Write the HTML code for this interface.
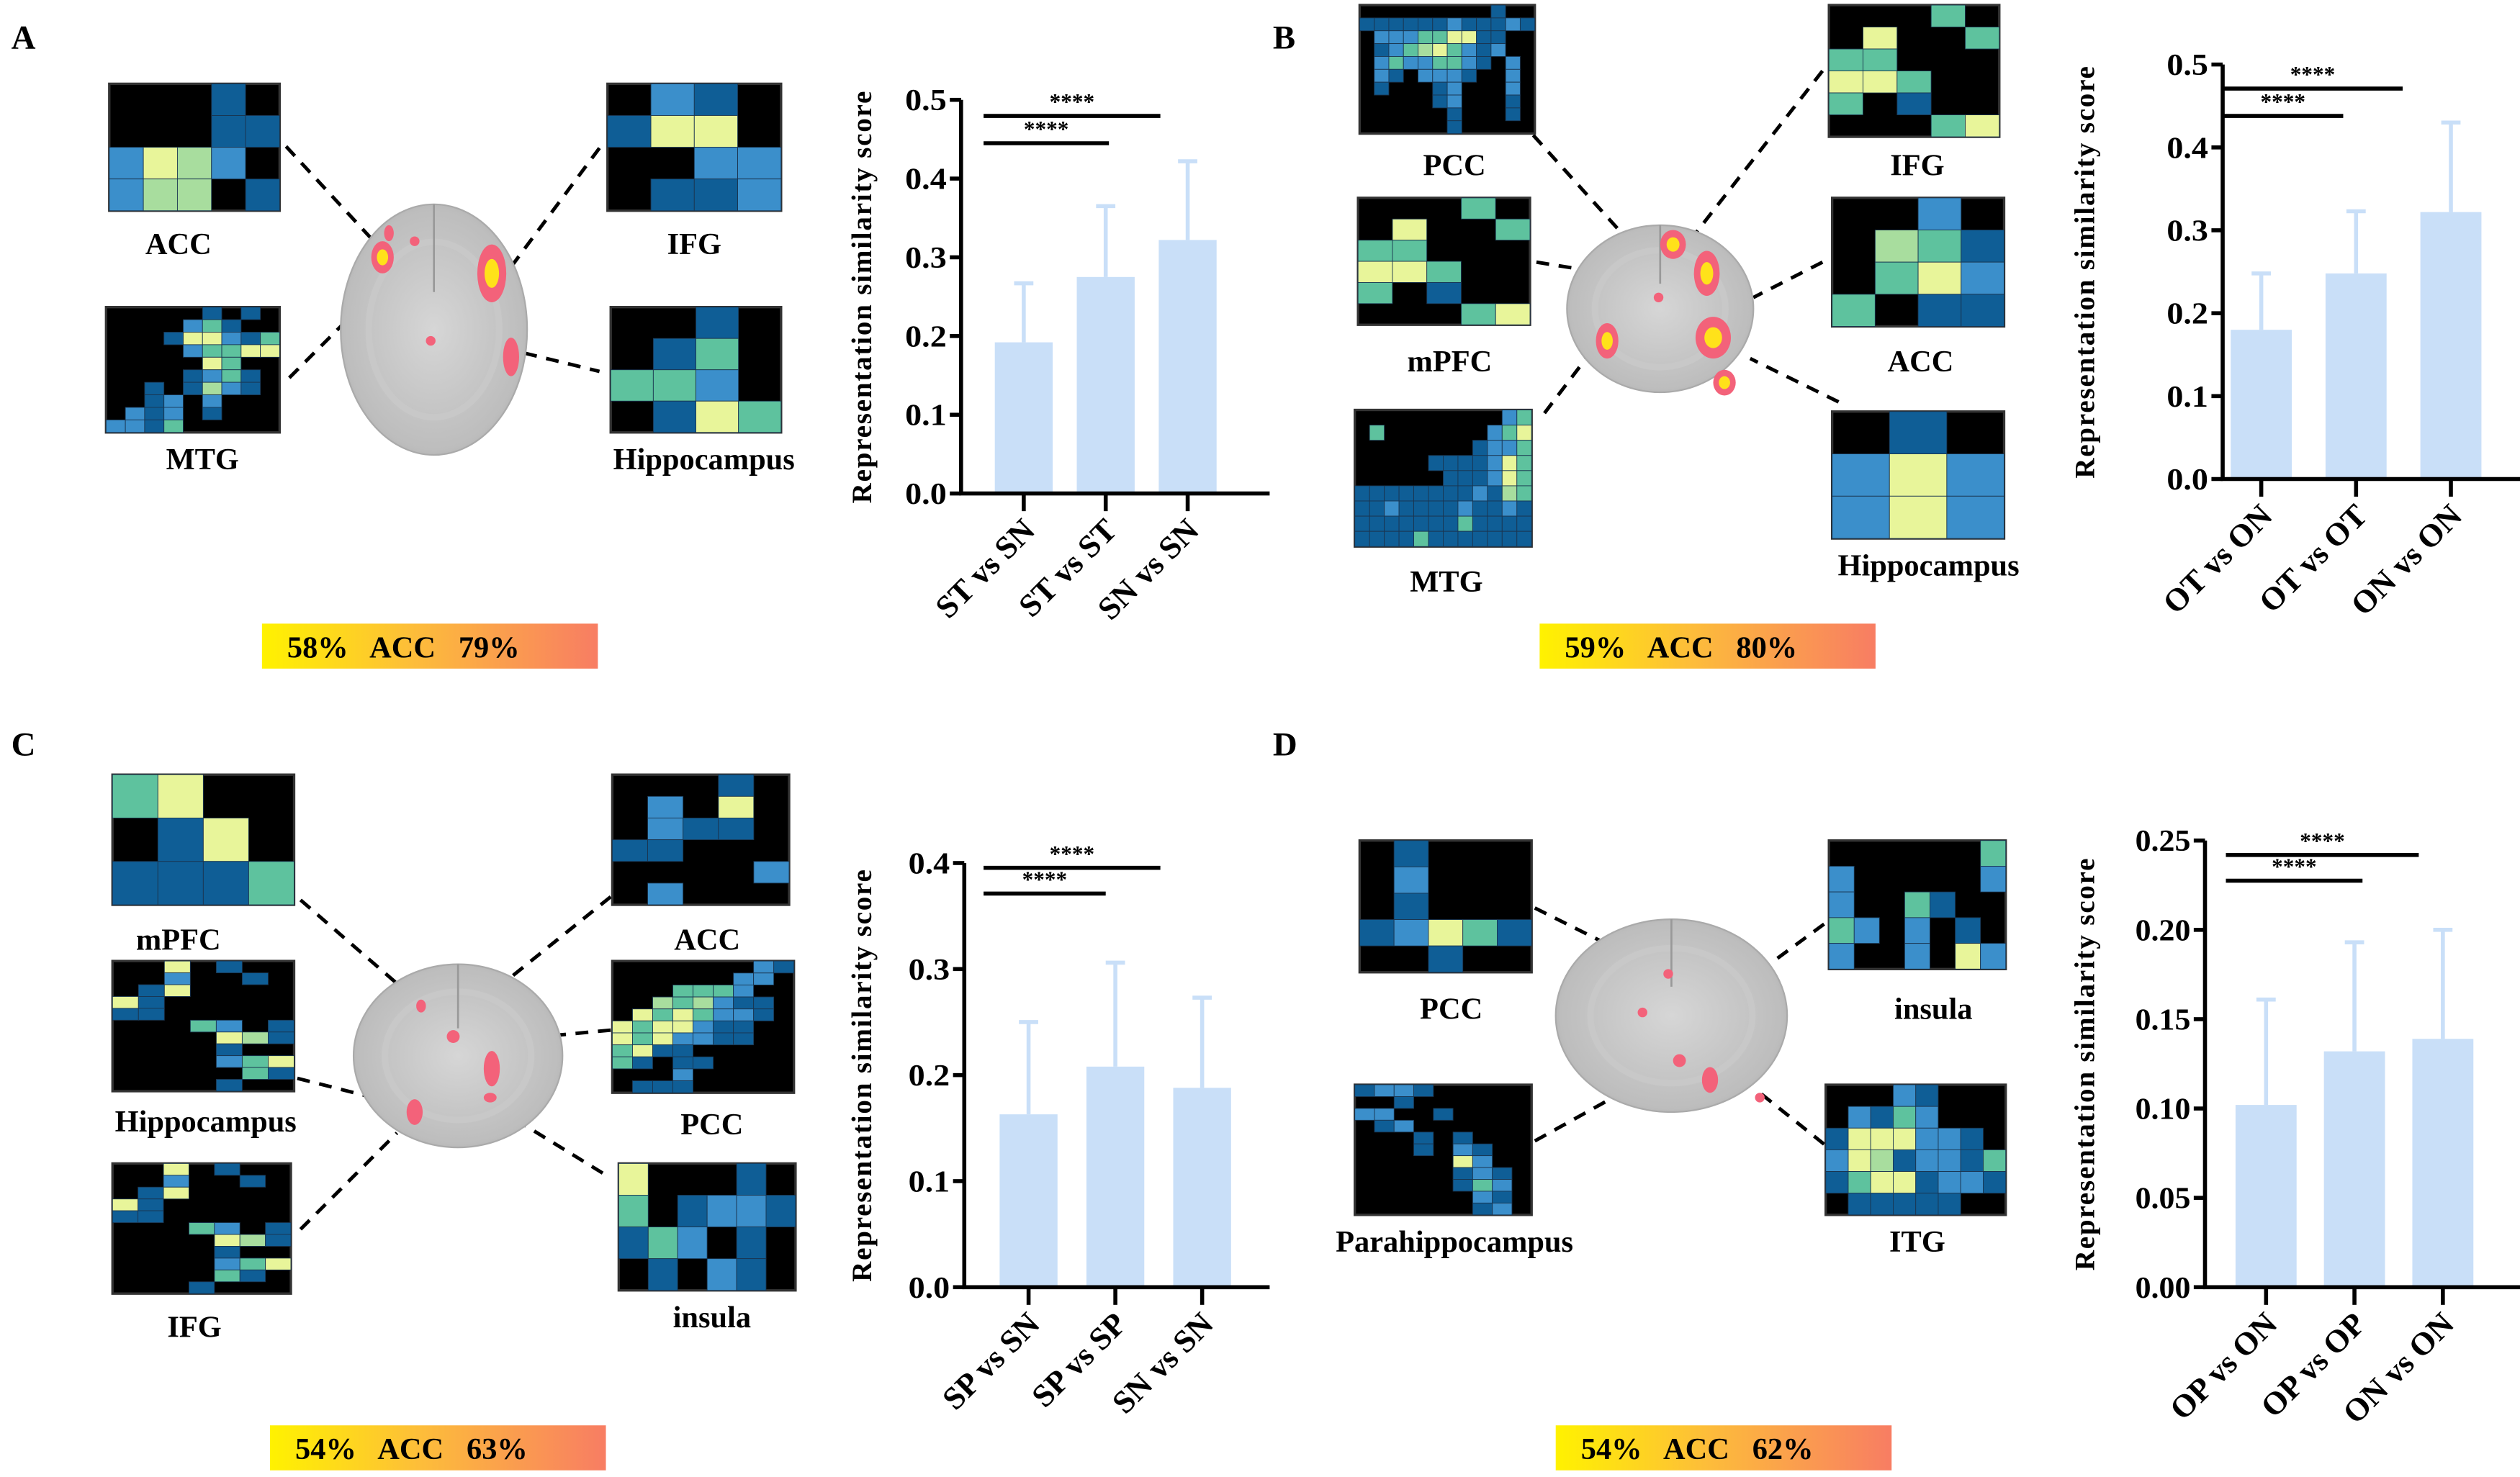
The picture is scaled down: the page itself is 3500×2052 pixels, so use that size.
<!DOCTYPE html>
<html><head><meta charset="utf-8">
<style>
html,body{margin:0;padding:0;background:#fff;}
svg{display:block;}
text{font-family:"Liberation Serif",serif;font-weight:bold;fill:#000;white-space:pre;}
</style></head>
<body>
<svg id="fig" width="3500" height="2052" viewBox="0 0 1568 919" xmlns="http://www.w3.org/2000/svg">
<defs>
<linearGradient id="cbar" x1="0" x2="1" y1="0" y2="0">
<stop offset="0" stop-color="#fff200"/><stop offset="0.45" stop-color="#fdbd3a"/><stop offset="1" stop-color="#f87d63"/>
</linearGradient>
<radialGradient id="brainG" cx="0.5" cy="0.5" r="0.6">
<stop offset="0" stop-color="#d6d6d6"/><stop offset="0.8" stop-color="#bdbdbd"/><stop offset="1" stop-color="#a5a5a5"/>
</radialGradient>
</defs>
<g id="layer"></g>
</svg>
<script>
// ---- Chart data (small named arrays) ----
const catsA = ["ST vs SN","ST vs ST","SN vs SN"];
const valsA = [0.192,0.275,0.322];
const errA  = [0.267,0.365,0.422];
const ticksA = ["0.0","0.1","0.2","0.3","0.4","0.5"];

const catsB = ["OT vs ON","OT vs OT","ON vs ON"];
const valsB = [0.180,0.248,0.322];
const errB  = [0.248,0.323,0.430];
const ticksB = ["0.0","0.1","0.2","0.3","0.4","0.5"];

const catsC = ["SP vs SN","SP vs SP","SN vs SN"];
const valsC = [0.163,0.208,0.188];
const errC  = [0.250,0.306,0.273];
const ticksC = ["0.0","0.1","0.2","0.3","0.4"];

const catsD = ["OP vs ON","OP vs OP","ON vs ON"];
const valsD = [0.102,0.132,0.139];
const errD  = [0.161,0.193,0.200];
const ticksD = ["0.00","0.05","0.10","0.15","0.20","0.25"];

const NS="http://www.w3.org/2000/svg";
const layer=document.getElementById('layer');
function mk(tag,attrs,parent){const e=document.createElementNS(NS,tag);for(const k in attrs)e.setAttribute(k,attrs[k]);(parent||layer).appendChild(e);return e;}

function drawChart(id,cats,vals,errs,ticks,ax){
  const g=mk('g',{});
  
  
  const ymax=parseFloat(ticks[ticks.length-1]);
  const y=v=>ax.y0-(v/ymax)*(ax.y0-ax.y1);
  const x=i=>ax.x0+ax.first+i*ax.step;
  cats.forEach((c,i)=>{
    const b=mk('rect',{x:x(i)-ax.bw/2,y:y(vals[i]),width:ax.bw,height:ax.y0-y(vals[i]),fill:'#c9dff8'},g);
    
    
    const e=mk('path',{d:`M${x(i)} ${y(vals[i])}V${y(errs[i])}M${x(i)-6} ${y(errs[i])}H${x(i)+6}`,stroke:'#c9dff8','stroke-width':2.5,fill:'none'},g);
    
    
  });
  const axl=mk('path',{d:`M${ax.x0} ${ax.y1}V${ax.y0}H${ax.xend}`,stroke:'#000','stroke-width':2.5,fill:'none'},g);
  
  
  ticks.forEach(t=>{
    const v=parseFloat(t);
    mk('path',{d:`M${ax.x0-7} ${y(v)}H${ax.x0}`,stroke:'#000','stroke-width':2.5},g);
    const tl=mk('text',{x:ax.x0-9,y:y(v)+6.5,'text-anchor':'end','font-size':19,'textLength':t.length*8.6,'lengthAdjust':'spacingAndGlyphs'},g);
    tl.textContent=t;
    
    
  });
  cats.forEach((c,i)=>{
    mk('path',{d:`M${x(i)} ${ax.y0}V${ax.y0+11}`,stroke:'#000','stroke-width':2.5},g);
    const tl=mk('text',{x:x(i)+8,y:ax.y0+24,'text-anchor':'end','font-size':20,transform:`rotate(-45 ${x(i)+8} ${ax.y0+24})`},g);
    tl.textContent=c;
    
    
  });
  const tt=mk('text',{x:ax.tx,y:(ax.y0+ax.y1)/2,'text-anchor':'middle','font-size':17.5,'letter-spacing':0.8,transform:`rotate(-90 ${ax.tx} ${(ax.y0+ax.y1)/2})`},g);
  tt.textContent='Representation similarity score';
  
  
  ax.sig.forEach((s,k)=>{
    const l=mk('path',{d:`M${s[0]} ${s[2]}H${s[1]}`,stroke:'#000','stroke-width':2.5},g);
    
    
    const st=mk('text',{x:(s[0]+s[1])/2,y:s[2]-4,'text-anchor':'middle','font-size':14,fill:'#333'},g);
    st.textContent='****';
    
    
  });
}
drawChart('a',catsA,valsA,errA,ticksA,{x0:598,y0:307,y1:62,xend:790,first:39,step:51,bw:36,tx:542,sig:[[612,690,89],[612,722,72]]});
drawChart('b',catsB,valsB,errB,ticksB,{x0:1383,y0:298,y1:40,xend:1568,first:24,step:59,bw:38,tx:1303,sig:[[1383,1458,72],[1383,1495,55]]});
drawChart('c',catsC,valsC,errC,ticksC,{x0:600,y0:801,y1:537,xend:790,first:40,step:54,bw:36,tx:542,sig:[[612,688,556],[612,722,540]]});
drawChart('d',catsD,valsD,errD,ticksD,{x0:1372,y0:801,y1:523,xend:1568,first:38,step:55,bw:38,tx:1303,sig:[[1385,1470,548],[1385,1505,532]]});

// ---- Heatmaps ----
const COL={k:'#000000',d:'#0f5e96',b:'#3b8fcb',t:'#5ec29e',y:'#e8f59a',g:'#a8dd9e'};
function heat(name,x,y,w,h,rows){
  const g=mk('g',{});
  
  
  mk('rect',{x:x,y:y,width:w,height:h,fill:'#000',stroke:'#333','stroke-width':1.5},g);
  const nr=rows.length,nc=rows[0].length,cw=w/nc,ch=h/nr;
  rows.forEach((r,i)=>{[...r].forEach((c,j)=>{if(c!=='k')mk('rect',{x:x+j*cw,y:y+i*ch,width:cw,height:ch,fill:COL[c],stroke:'#1a3550','stroke-width':0.4},g);});});
}
function label(txt,x,y){const t=mk('text',{x:x,y:y,'text-anchor':'middle','font-size':19});t.textContent=txt;
  }
function dash(x1,y1,x2,y2){const l=mk('line',{x1,y1,x2,y2,stroke:'#000','stroke-width':2.2,'stroke-dasharray':'8,6'});
  }
function brain(cx,cy,rx,ry,blobs){
  const g=mk('g',{});
  mk('ellipse',{cx,cy,rx,ry,fill:'url(#brainG)',stroke:'#aaa','stroke-width':1},g);
  mk('ellipse',{cx,cy,rx:rx*0.7,ry:ry*0.7,fill:'none',stroke:'#c8c8c8','stroke-width':4},g);
  mk('line',{x1:cx,y1:cy-ry,x2:cx,y2:cy-ry*0.3,stroke:'#999','stroke-width':1.2},g);
  blobs.forEach(b=>{mk('ellipse',{cx:b[0],cy:b[1],rx:b[2],ry:b[3],fill:'#f3627a'},g);
    if(b[2]>5)mk('ellipse',{cx:b[0],cy:b[1],rx:b[2]*0.5,ry:b[3]*0.5,fill:'#ffe21a'},g);});
}
function cbar(x,y,txt){const r=mk('rect',{x,y,width:209,height:28,fill:'url(#cbar)'});
  
  const t=mk('text',{x:x+88,y:y+21,'text-anchor':'middle','font-size':19});t.textContent=txt;
  }
function letter(l,x,y){const t=mk('text',{x,y,'font-size':21});t.textContent=l;
  }

// Panel A
letter('A',7,30);
dash(178,91,240,158);dash(373,92,315,170);dash(180,235,225,190);dash(299,213,373,231);
brain(270,205,58,78,[[238,160,7,10],[306,170,9,18],[268,212,3,3],[318,222,5,12],[242,145,3,5],[258,150,3,3]]);
heat('acc-a',68,52,106,79,['kkkdk','kkkdd','bygbk','bggkd']);
heat('ifg-a',378,52,108,79,['kbdk','dyyk','kkbb','kddb']);
heat('mtg-a',66,191,108,78,['kkkkkdkdk','kkkkbtdkk','kkkdyybdt','kkkkbttyy','kkkkkytkk','kkkkdbtdk','kkdkdgbdk','kkdbkbkkk','kbdbkdkkk','bbdtkkkkk']);
heat('hippo-a',380,191,106,78,['kkdk','kdtk','ttbk','kdyt']);
label('ACC',111,158);label('IFG',432,158);label('MTG',126,292);label('Hippocampus',438,292);
cbar(163,388,'58%   ACC   79%');

// Panel B
letter('B',792,30);
dash(954,84,1029,167);dash(1134,44,1041,163);dash(956,163,1024,174);dash(1134,163,1091,185);dash(961,257,999,207);dash(1144,250,1089,223);
brain(1033,192,58,52,[[1041,152,8,9],[1062,170,8,14],[1000,212,7,11],[1066,210,11,13],[1073,238,7,8],[1032,185,3,3]]);
heat('pcc-b',846,3,109,80,['kkkkkkkkkdkk','ddddddbdddbd','kbbbttyyddkk','kdbtgytbdbkk','kbtbbttbdkbk','kbdkbbbdkkbk','kdkkkdbkkkbk','kkkkkdbkkkdk','kkkkkkdkkkdk','kkkkkkdkkkkk']);
heat('ifg-b',1138,3,106,82,['kkktk','kykkt','ttkkk','yytkk','tkdkk','kkkty']);
heat('mpfc-b',845,123,107,79,['kkktk','kykkt','ttkkk','yytkk','tkdkk','kkkty']);
heat('acc-b',1140,123,107,80,['kkbk','kgtd','ktyb','tkdd']);
heat('mtg-b',843,255,110,85,['kkkkkkkkkkbt','ktkkkkkkkbty','kkkkkkkkdbbt','kkkkkddddbyt','kkkkkkdddbyt','ddddddddbdgt','ddbddddbddbd','dddddddtdddd','ddddtddddddd']);
heat('hippo-b',1140,256,107,79,['kdk','byb','byb']);
label('PCC',905,109);label('IFG',1193,109);label('mPFC',902,231);label('ACC',1195,231);label('MTG',900,368);label('Hippocampus',1200,358);
cbar(958,388,'59%   ACC   80%');

// Panel C
letter('C',7,470);
dash(187,560,262,625);dash(380,558,277,641);dash(185,671,260,690);dash(380,641,285,650);dash(187,765,247,705);dash(375,730,305,687);
brain(285,657,65,57,[[262,626,3,4],[282,645,4,4],[306,665,5,11],[258,692,5,8],[305,683,4,3]]);
heat('mpfc-c',70,482,113,81,['tykk','kdyk','dddt']);
heat('acc-c',381,482,110,81,['kkkdk','kbkyk','kbddk','ddkkk','kkkkb','kbkkk']);
heat('hippo-c',70,598,113,81,['kkykdkk','kkbkkdk','kdykkkk','ydkkkkk','ddkkkkk','kkktbkd','kkkkygd','kkkkdkk','kkkkbty','kkkkktd','kkkkdkk']);
heat('pcc-c',381,598,113,82,['kkkkkkkbd','kkkkkkbbk','kkktttbkk','kkgtgbddk','kytytbbdk','ytyybddkk','ytybbddkk','tyddkkkkk','tdkddkkkk','kkkbkkkkk','kdddkkkkk']);
heat('ifg-c',70,724,111,81,['kkykdkk','kkbkkdk','kdykkkk','ydkkkkk','ddkkkkk','kkktbkd','kkkkygd','kkkkdkk','kkkkbty','kkkktdk','kkkdkkk']);
heat('insula-c',385,724,110,79,['ykkkdk','tkdbbd','dtbkdk','kdkbdk']);
label('mPFC',111,591);label('ACC',440,591);label('Hippocampus',128,704);label('PCC',443,706);label('IFG',121,832);label('insula',443,826);
cbar(168,887,'54%   ACC   63%');

// Panel D
letter('D',792,470);
dash(955,565,1035,605);dash(1135,575,1060,630);dash(955,710,1045,660);dash(1135,712,1095,680);
brain(1040,632,72,60,[[1038,606,3,3],[1022,630,3,3],[1045,660,4,4],[1064,672,5,8],[1095,683,3,3]]);
heat('pcc-d',846,523,107,82,['kdkkk','kbkkk','kdkkk','dbytd','kkdkk']);
heat('insula-d',1138,523,110,80,['kkkkkkt','bkkkkkb','bkktdkk','tbkbkdk','bkkbkyb']);
heat('parahippo-d',843,675,110,81,['dbbdkkkkk','kkdkkkkkk','bbkkdkkkk','kdbkkkkkk','kkkdkdkkk','kkkdkbdkk','kkkkkybkk','kkkkkdbdk','kkkkkdtbk','kkkkkkbdk','kkkkkkdbk']);
heat('itg-d',1136,675,112,81,['kkkbdkkk','kbdtbkkk','dyyybbdk','bygdbbdt','dtyydbbd','kdddddkk']);
label('PCC',903,634);label('insula',1203,634);label('Parahippocampus',905,779);label('ITG',1193,779);
cbar(968,887,'54%   ACC   62%');
</script>
</body></html>
